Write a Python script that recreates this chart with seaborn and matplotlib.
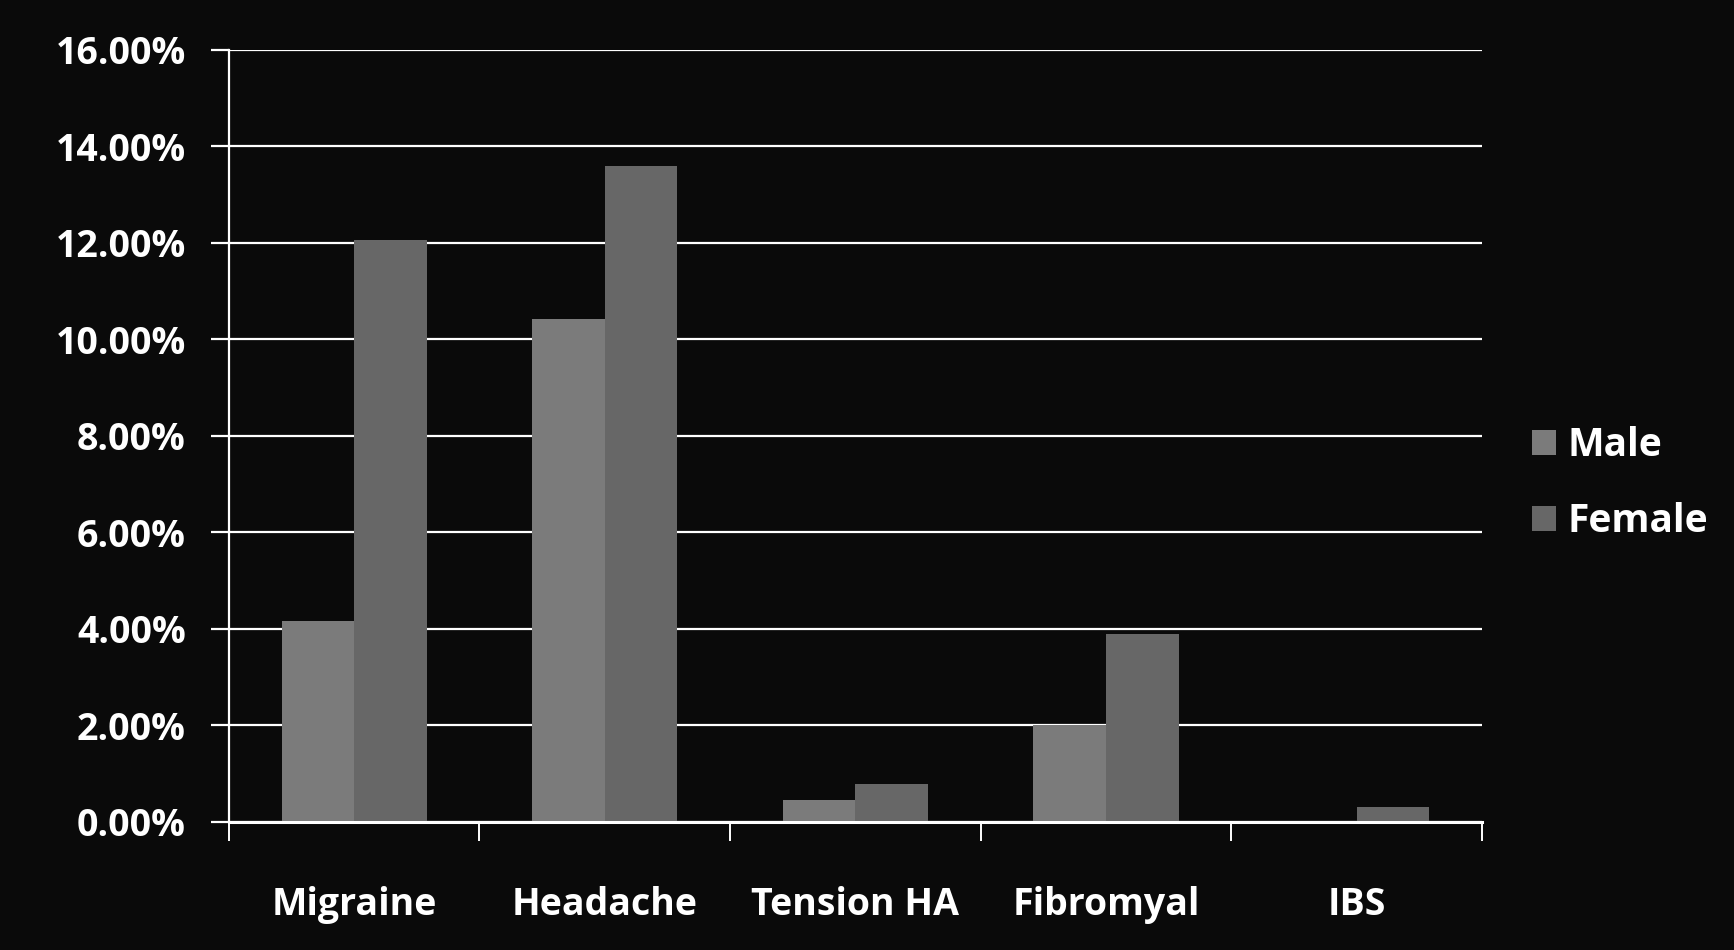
import matplotlib
matplotlib.use("Agg")
import matplotlib.pyplot as plt
import seaborn as sns
import pandas as pd
from matplotlib.patches import Patch
from matplotlib.ticker import FuncFormatter

# values (percent)
conditions = ["Migraine", "Headache", "Tension HA", "Fibromyal", "IBS"]
male = [4.15, 10.42, 0.45, 2.0, 0.0]
female = [12.05, 13.58, 0.78, 3.9, 0.3]
y_ticks = [0, 2, 4, 6, 8, 10, 12, 14, 16]

BG = "#0a0a0a"
MALE_C = "#7b7b7b"
FEMALE_C = "#676767"

df = pd.DataFrame({
    "Condition": conditions * 2,
    "Sex": ["Male"] * len(conditions) + ["Female"] * len(conditions),
    "Pct": male + female,
})

sns.set_style("dark")
plt.rcParams["font.family"] = ["Open Sans", "DejaVu Sans"]
plt.rcParams["font.weight"] = "bold"

fig = plt.figure(figsize=(17.34, 9.5), dpi=100, facecolor=BG)
ax = fig.add_axes([0.132, 0.135, 0.7226, 0.8127], facecolor=BG)

sns.barplot(data=df, x="Condition", y="Pct", hue="Sex", order=conditions,
            hue_order=["Male", "Female"], palette=[MALE_C, FEMALE_C],
            width=0.58, saturation=1, legend=False, ax=ax, linewidth=0)

ax.set_xlim(-0.5, len(conditions) - 0.5)
ax.set_ylim(0, 16)
ax.set_yticks(y_ticks)
ax.yaxis.set_major_formatter(FuncFormatter(lambda v, _: f"{v:.2f}%"))
ax.set_axisbelow(True)
ax.grid(axis="y", color="white", linewidth=1.6)
ax.grid(axis="x", visible=False)

# category boundary ticks on the x axis
ax.set_xticks([i - 0.5 for i in range(len(conditions) + 1)], minor=True)
ax.tick_params(axis="x", which="minor", bottom=True, length=14, width=1.4,
               color="white", direction="out")
ax.tick_params(axis="x", which="major", bottom=False, length=0, pad=46,
               labelsize=27, labelcolor="white")
ax.tick_params(axis="y", left=True, length=13, width=1.6, color="white", pad=18,
               labelsize=27, labelcolor="white")

for side in ["top", "right"]:
    ax.spines[side].set_visible(False)
ax.spines["left"].set_color("white")
ax.spines["left"].set_linewidth(1.6)
ax.spines["bottom"].set_color("white")
ax.spines["bottom"].set_linewidth(2.2)
ax.set_xlabel("")
ax.set_ylabel("")

handles = [Patch(facecolor=MALE_C, edgecolor="none", label="Male"),
           Patch(facecolor=FEMALE_C, edgecolor="none", label="Female")]
leg = fig.legend(handles=handles, loc="center left", bbox_to_anchor=(0.8745, 0.491),
                 frameon=False, fontsize=28, labelcolor="white",
                 handlelength=0.62, handleheight=0.62, handletextpad=0.3,
                 labelspacing=0.95, borderaxespad=0)

fig.savefig("out.png", dpi=100, facecolor=BG)
